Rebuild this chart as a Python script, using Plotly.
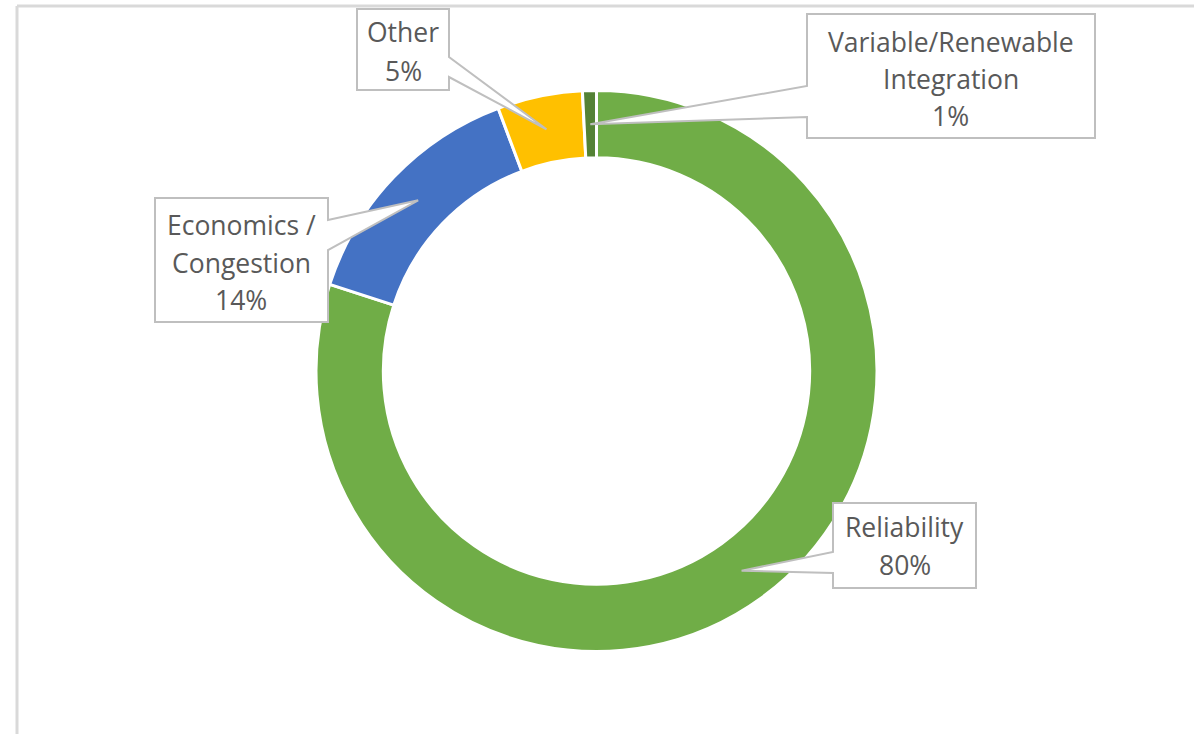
import math
import plotly.graph_objects as go

# ---- data ----
categories = ["Reliability", "Economics / Congestion", "Other", "Variable/Renewable Integration"]
values = [80.0, 14.3, 4.9, 0.8]
colors = ["#70AD47", "#4472C4", "#FFC000", "#548235"]
label_lines = [["Reliability"], ["Economics /", "Congestion"], ["Other"], ["Variable/Renewable", "Integration"]]

W, H = 1194, 734
CX, CY, R = 596.5, 371.0, 280.5
HOLE = 0.76

# callout layout (pixels): box l,t,r,b ; side of pointer ; pointer base y1,y2 ; text line ys
callouts = [
    dict(box=(833, 503, 976, 588), side="left", base=(552, 573), ys=[527, 565]),
    dict(box=(155, 198, 328, 322), side="right", base=(220, 250), ys=[225, 263, 300]),
    dict(box=(357, 9, 449, 90), side="right", base=(57, 77), ys=[32, 71]),
    dict(box=(807, 14, 1095, 138), side="left", base=(86, 117), ys=[42, 79, 116]),
]

def px(x):
    return x / W

def py(y):
    return 1 - y / H

fig = go.Figure(go.Pie(
    labels=categories, values=values, sort=False, direction="clockwise", rotation=0,
    hole=HOLE, marker=dict(colors=colors, line=dict(color="white", width=3)),
    textinfo="none", hoverinfo="label+percent", showlegend=False,
    domain=dict(x=[px(CX - R), px(CX + R)], y=[py(CY + R), py(CY - R)]),
))

total = sum(values)
shapes = []
annotations = []
cum = 0.0
rm = R * (1 + HOLE) / 2
for cat, v, lines, co in zip(categories, values, label_lines, callouts):
    mid = (cum + v / 2) / total * 2 * math.pi
    cum += v
    tx = CX + rm * math.sin(mid)
    ty = CY - rm * math.cos(mid)
    l, t, r, b = co["box"]
    y1, y2 = co["base"]
    if co["side"] == "right":
        pts = [(l, t), (r, t), (r, y1), (tx, ty), (r, y2), (r, b), (l, b)]
    else:
        pts = [(l, t), (r, t), (r, b), (l, b), (l, y2), (tx, ty), (l, y1)]
    path = "M " + " L ".join(f"{px(x):.5f},{py(y):.5f}" for x, y in pts) + " Z"
    shapes.append(dict(type="path", path=path, xref="paper", yref="paper",
                       fillcolor="white", line=dict(color="#BFBFBF", width=2), layer="above"))
    pct = f"{round(v / total * 100)}%"
    texts = lines + [pct]
    xc = (l + r) / 2
    for txt, yy in zip(texts, co["ys"]):
        annotations.append(dict(text=txt, x=px(xc), y=py(yy), xref="paper", yref="paper",
                                xanchor="center", yanchor="middle", showarrow=False,
                                font=dict(family="Open Sans", size=26.5, color="#595959")))

# frame lines
shapes.append(dict(type="line", xref="paper", yref="paper", x0=px(17), x1=1, y0=py(6), y1=py(6),
                   line=dict(color="#D9D9D9", width=3)))
shapes.append(dict(type="line", xref="paper", yref="paper", x0=px(17), x1=px(17), y0=py(6), y1=0,
                   line=dict(color="#D9D9D9", width=3)))

fig.update_layout(width=W, height=H, margin=dict(l=0, r=0, t=0, b=0),
                  paper_bgcolor="white", plot_bgcolor="white",
                  shapes=shapes, annotations=annotations)
fig.write_html("out.html", config={"displayModeBar": False},
               post_script="document.body.style.margin='0';document.body.style.overflow='hidden';")
